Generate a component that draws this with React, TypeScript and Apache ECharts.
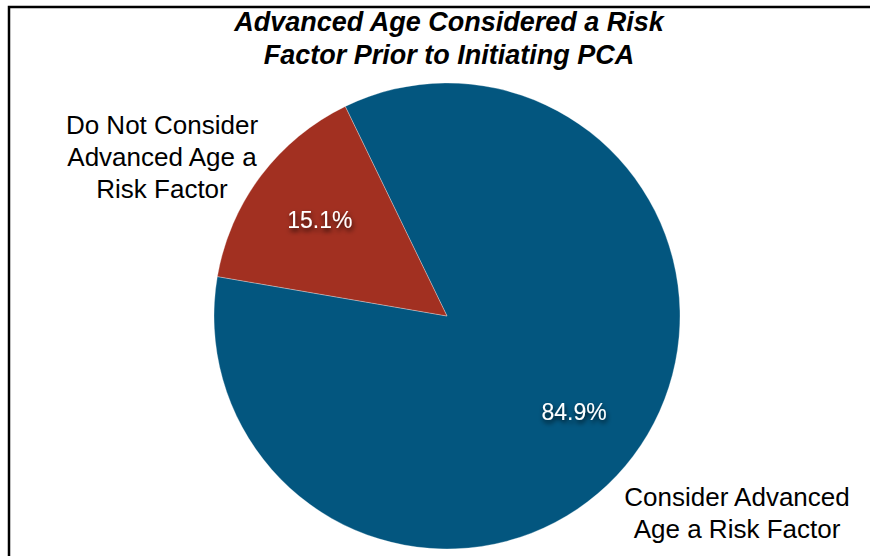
import React, { useEffect, useRef } from "react";
import * as echarts from "echarts";

const titleLines = ["Advanced Age Considered a Risk", "Factor Prior to Initiating PCA"];
const categories = ["Consider Advanced\nAge a Risk Factor", "Do Not Consider\nAdvanced Age a\nRisk Factor"];
const values = [84.9, 15.1];
const colors = ["#03567F", "#A23021"];
const labelCenters = [
  [737, 513],
  [162, 157],
];

const FONT = '"Liberation Sans", Arial, Helvetica, sans-serif';

export default function App() {
  const ref = useRef<HTMLDivElement>(null);
  useEffect(() => {
    if (!ref.current) return;
    const chart = echarts.init(ref.current, null, { renderer: "svg" });
    const data = categories.map((name, i) => ({
      name,
      value: values[i],
      itemStyle: { color: colors[i] },
    }));
    chart.setOption({
      animation: false,
      backgroundColor: "#ffffff",
      title: {
        text: titleLines.join("\n"),
        left: 449,
        top: 5,
        textAlign: "center",
        padding: 0,
        textStyle: {
          fontFamily: FONT,
          fontSize: 27,
          fontWeight: "bold",
          fontStyle: "italic",
          color: "#000",
          lineHeight: 33,
        },
      },
      graphic: [
        {
          type: "polyline",
          shape: { points: [[9, 560], [9, 7], [875, 7]] },
          style: { stroke: "#000", lineWidth: 2.5, fill: "none" },
          z: 10,
        },
      ],
      series: [
        {
          type: "pie",
          center: [447, 316],
          radius: 233,
          startAngle: 115.9,
          clockwise: true,
          avoidLabelOverlap: false,
          itemStyle: { borderColor: "rgba(255,255,255,0.5)", borderWidth: 0.6 },
          label: {
            show: true,
            position: "outside",
            formatter: "{b}",
            fontFamily: FONT,
            fontSize: 26,
            lineHeight: 32,
            color: "#000",
            align: "center",
          },
          labelLine: { show: false },
          labelLayout: (p: any) => ({
            x: labelCenters[p.dataIndex][0],
            y: labelCenters[p.dataIndex][1],
            align: "center",
            verticalAlign: "middle",
          }),
          emphasis: { disabled: true },
          data,
        },
        {
          type: "pie",
          center: [447, 316],
          radius: [122, 190],
          startAngle: 115.9,
          clockwise: true,
          silent: true,
          itemStyle: { color: "rgba(0,0,0,0)", borderWidth: 0 },
          label: {
            show: true,
            position: "inside",
            formatter: (p: any) => p.value.toFixed(1) + "%",
            fontFamily: FONT,
            fontSize: 23,
            color: "#ffffff",
            textShadowColor: "rgba(0,0,0,0.8)",
            textShadowBlur: 5,
            textShadowOffsetX: 1,
            textShadowOffsetY: 3,
          },
          labelLine: { show: false },
          emphasis: { disabled: true },
          data: categories.map((name, i) => ({ name, value: values[i] })),
        },
      ],
    });
    return () => chart.dispose();
  }, []);
  return (
    <div
      ref={ref}
      style={{ position: "fixed", left: 0, top: 0, width: 870, height: 556, background: "#fff" }}
    />
  );
}
